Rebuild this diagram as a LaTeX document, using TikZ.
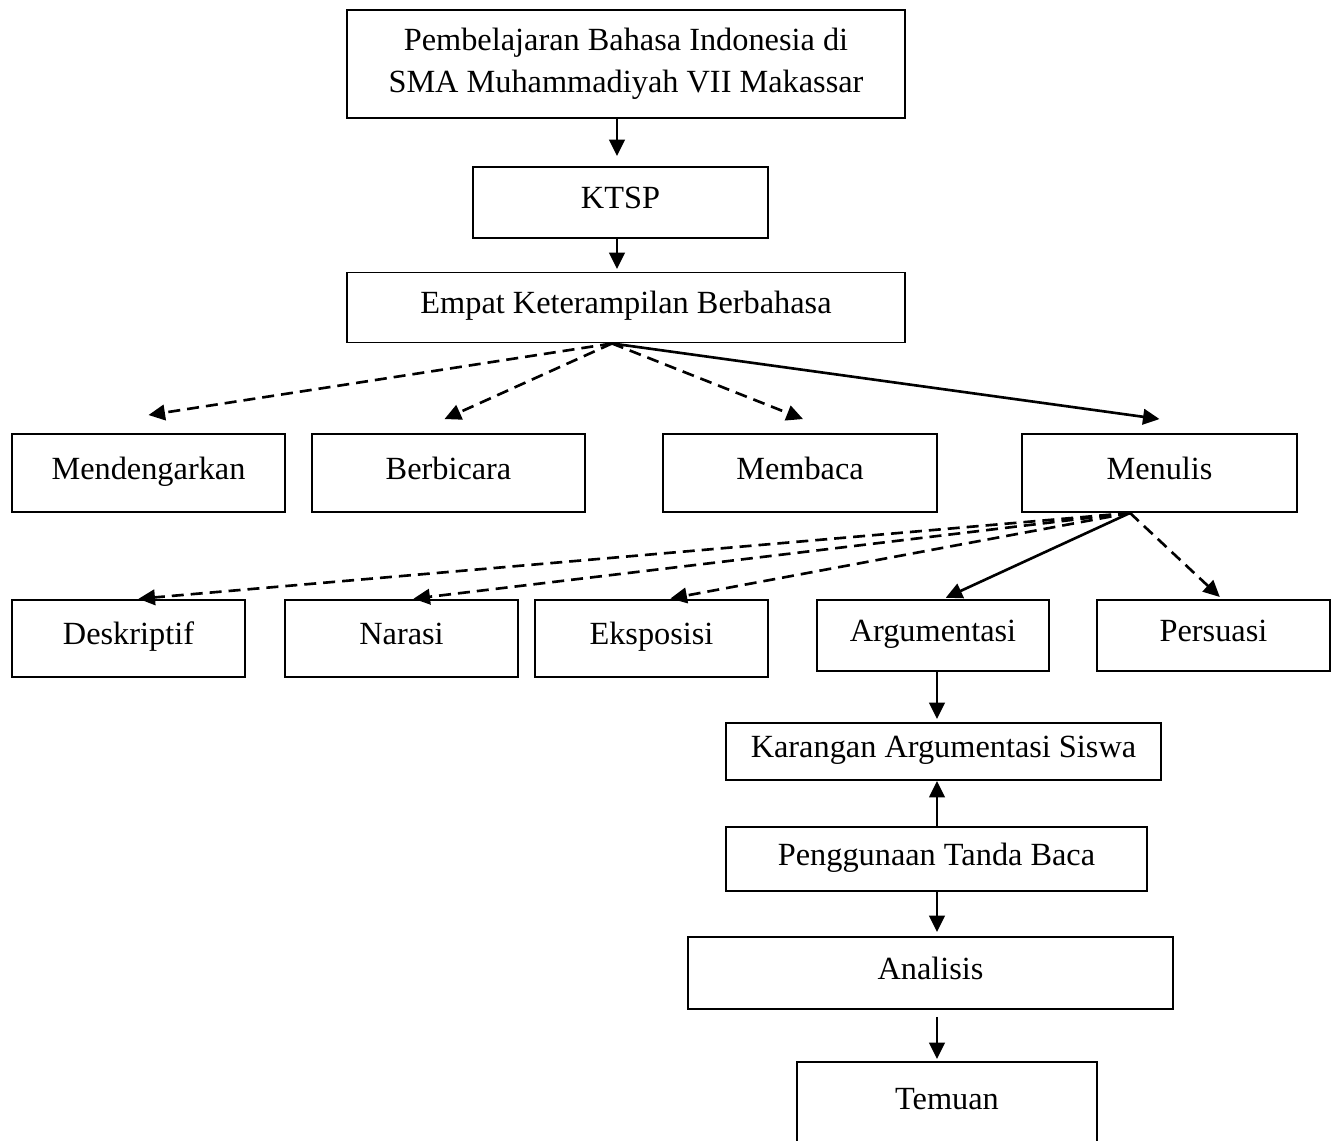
\documentclass[tikz,border=0pt]{standalone}
\usepackage{fontspec}
\setmainfont{Liberation Serif}
\usetikzlibrary{arrows.meta}
\tikzset{
  kotak/.style={draw, line width=1.1pt, inner sep=0pt, align=center,
    font=\fontsize{18.4}{21}\selectfont},
  kotaksatu/.style={kotak, text height=0.45cm, text depth=0.2cm},
  panah/.style={line width=1.5pt, -{Triangle[length=0.33cm,width=0.31cm]}},
  putus/.style={panah, dash pattern=on 0.24cm off 0.14cm},
}

\begin{document}
\begin{tikzpicture}[x=0.02cm, y=-0.02cm]
    \useasboundingbox (0,0) rectangle (1338,1140);
    \clip (0,0) rectangle (1338,1140);

    % atas
    \node[kotak, minimum width=11.16cm, minimum height=2.16cm] (judul) at (626,64)
        {Pembelajaran Bahasa Indonesia di\\[3pt]SMA Muhammadiyah VII Makassar};
    \node[kotaksatu, minimum width=5.9cm, minimum height=1.42cm] (ktsp) at (620.5,202.5) {KTSP};
    \node[kotaksatu, minimum width=11.16cm, minimum height=1.4cm] (empat) at (626,307.5) {Empat Keterampilan Berbahasa};

    % empat keterampilan
    \node[kotaksatu, minimum width=5.46cm, minimum height=1.56cm] (dengar) at (148.5,473) {Mendengarkan};
    \node[kotaksatu, minimum width=5.46cm, minimum height=1.56cm] (bicara) at (448.5,473) {Berbicara};
    \node[kotaksatu, minimum width=5.48cm, minimum height=1.56cm] (baca) at (800,473) {Membaca};
    \node[kotaksatu, minimum width=5.5cm, minimum height=1.56cm] (tulis) at (1159.5,473) {Menulis};

    % jenis karangan
    \node[kotaksatu, minimum width=4.66cm, minimum height=1.54cm] (desk) at (128.5,638.5) {Deskriptif};
    \node[kotaksatu, minimum width=4.66cm, minimum height=1.54cm] (nar) at (401.5,638.5) {Narasi};
    \node[kotaksatu, minimum width=4.66cm, minimum height=1.54cm] (eksp) at (651.5,638.5) {Eksposisi};
    \node[kotaksatu, minimum width=4.64cm, minimum height=1.42cm] (arg) at (933,635.5) {Argumentasi};
    \node[kotaksatu, minimum width=4.66cm, minimum height=1.42cm] (pers) at (1213.5,635.5) {Persuasi};

    % bawah
    \node[kotaksatu, minimum width=8.7cm, minimum height=1.14cm] (karang) at (943.5,751.5) {Karangan Argumentasi Siswa};
    \node[kotaksatu, minimum width=8.42cm, minimum height=1.28cm] (tanda) at (936.5,859) {Penggunaan Tanda Baca};
    \node[kotaksatu, minimum width=9.7cm, minimum height=1.44cm] (anal) at (930.5,973) {Analisis};
    \node[kotaksatu, minimum width=6cm, minimum height=1.66cm] (temu) at (947,1103.5) {Temuan};

    % panah
    \draw[panah, shorten >=0.2cm] (judul.south -| 617,0) -- (ktsp.north -| 617,0);
    \draw[panah, shorten >=0.05cm] (ktsp.south -| 617,0) -- (empat.north -| 617,0);

    \coordinate (ek) at ([xshift=-0.28cm]empat.south);
    \draw[putus] (ek) -- ([yshift=0.36cm]dengar.north);
    \draw[putus] (ek) -- ([xshift=-0.08cm,yshift=0.28cm]bicara.north);
    \draw[putus] (ek) -- ([xshift=0.06cm,yshift=0.28cm]baca.north);
    \draw[panah] (ek) -- ([yshift=0.28cm]tulis.north);

    \coordinate (tk) at ([xshift=-0.59cm]tulis.south);
    \draw[putus, shorten >=0.06cm] (tk) -- ([xshift=0.14cm]desk.north);
    \draw[putus, shorten >=0.06cm] (tk) -- ([xshift=0.18cm]nar.north);
    \draw[putus, shorten >=0.06cm] (tk) -- ([xshift=0.32cm]eksp.north);
    \draw[panah, shorten >=0.06cm] (tk) -- ([xshift=0.2cm]arg.north);
    \draw[putus, shorten >=0.06cm] (tk) -- ([xshift=0.17cm]pers.north);

    \draw[panah, shorten >=0.06cm] (arg.south -| 937,0) -- (karang.north -| 937,0);
    \draw[panah] (tanda.north -| 937,0) -- (karang.south -| 937,0);
    \draw[panah, shorten >=0.08cm] (tanda.south -| 937,0) -- (anal.north -| 937,0);
    \draw[panah, shorten <=0.14cm, shorten >=0.04cm] (anal.south -| 937,0) -- (temu.north -| 937,0);
\end{tikzpicture}
\end{document}
